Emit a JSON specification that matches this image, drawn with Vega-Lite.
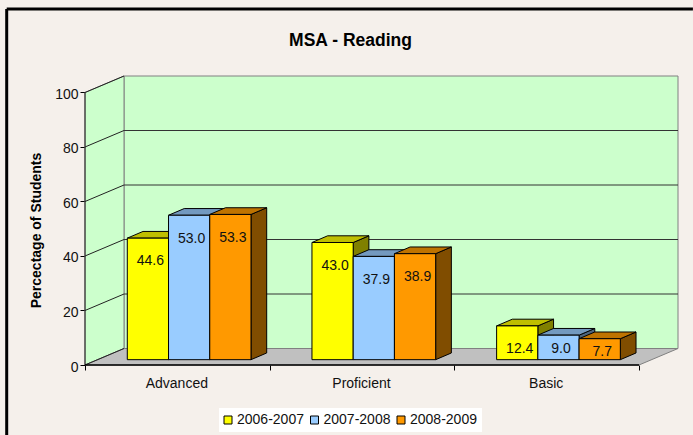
{
"$schema":"https://vega.github.io/schema/vega-lite/v6.json",
"width":593,"height":289,
"autosize":"none",
"padding":{"left":85,"top":76,"right":15,"bottom":70},
"background":"#F5F0EB",
"config":{"font":"Liberation Sans","view":{"stroke":null}},
"title":{"text":"MSA - Reading","fontSize":17.5,"fontWeight":"bold","color":"#000","anchor":"middle","dx":-31,"offset":-42},
"datasets":{
"bars":[
{"category":"Advanced","year":"2006-2007","value":44.6},
{"category":"Advanced","year":"2007-2008","value":53.0},
{"category":"Advanced","year":"2008-2009","value":53.3},
{"category":"Proficient","year":"2006-2007","value":43.0},
{"category":"Proficient","year":"2007-2008","value":37.9},
{"category":"Proficient","year":"2008-2009","value":38.9},
{"category":"Basic","year":"2006-2007","value":12.4},
{"category":"Basic","year":"2007-2008","value":9.0},
{"category":"Basic","year":"2008-2009","value":7.7}],
"ends":[{"t":0},{"t":1}],
"grid":[{"v":0},{"v":20},{"v":40},{"v":60},{"v":80},{"v":100}],
"edges":[{"edge":"top"},{"edge":"left"}]
},
"layer":[
{"data":{"values":[{"wall":"back"}]},
 "transform":[{"calculate":"0.2112","as":"xa"},{"calculate":"3.2112","as":"xb"},{"calculate":"6.055","as":"ya"},{"calculate":"106.055","as":"yb"}],
 "mark":{"type":"rect","fill":"#CCFFCC","stroke":"#808080","strokeWidth":1},
 "encoding":{
  "x":{"field":"xa","type":"quantitative","scale":{"domain":[0,3.2112],"nice":false,"zero":false},
   "axis":{"values":[0,0.5,1,1.5,2,2.5,3],"domain":false,"grid":false,"title":null,"tickSize":5,"tickColor":"#000","labelFontSize":14,"labelColor":"#111","labelPadding":6,"labelOffset":-1,"labelOverlap":false,"labelFlush":false,"tickOpacity":{"condition":{"test":"datum.value % 1 != 0","value":0},"value":1},"labelExpr":"datum.value==0.5?'Advanced':datum.value==1.5?'Proficient':datum.value==2.5?'Basic':''"}},
  "x2":{"field":"xb"},
  "y":{"field":"ya","type":"quantitative","scale":{"domain":[0,106.055],"nice":false,"zero":false},
   "axis":{"values":[0,20,40,60,80,100],"domain":false,"grid":false,"tickSize":5,"tickColor":"#000","labelFontSize":14,"labelColor":"#111","labelPadding":2,"labelOffset":2,"title":"Percectage of Students","titleFontSize":14,"titleFontWeight":"bold","titleColor":"#000","titleX":-42,"titleY":154}},
  "y2":{"field":"yb"}}},
{"data":{"name":"ends"},
 "transform":[{"calculate":"datum.t*0.2112","as":"xa"},{"calculate":"datum.t*6.055","as":"ya"},{"calculate":"100+datum.t*6.055","as":"yb"}],
 "mark":{"type":"area","fill":"#CCFFCC","stroke":"#808080","strokeWidth":1,"orient":"vertical"},
 "encoding":{"x":{"field":"xa","type":"quantitative"},"y":{"field":"ya","type":"quantitative"},"y2":{"field":"yb"}}},
{"data":{"name":"ends"},
 "transform":[{"calculate":"datum.t*0.2112","as":"xa"},{"calculate":"3+datum.t*0.2112","as":"xb"},{"calculate":"datum.t*6.055","as":"ya"}],
 "mark":{"type":"area","fill":"#C0C0C0","stroke":"#808080","strokeWidth":1,"orient":"horizontal"},
 "encoding":{"y":{"field":"ya","type":"quantitative"},"x":{"field":"xa","type":"quantitative"},"x2":{"field":"xb"}}},
{"data":{"name":"grid"},
 "transform":[{"filter":"datum.v>0 && datum.v<100"},{"calculate":"0.2112","as":"xa"},{"calculate":"3.2112","as":"xb"},{"calculate":"datum.v+6.055","as":"ya"}],
 "mark":{"type":"rule","color":"#333","strokeWidth":1},
 "encoding":{"x":{"field":"xa","type":"quantitative"},"x2":{"field":"xb"},"y":{"field":"ya","type":"quantitative"}}},
{"data":{"name":"grid"},
 "transform":[{"calculate":"0","as":"xa"},{"calculate":"0.2112","as":"xb"},{"calculate":"datum.v+6.055","as":"ya"}],
 "mark":{"type":"rule","color":"#222","strokeWidth":1},
 "encoding":{"x":{"field":"xa","type":"quantitative"},"x2":{"field":"xb"},"y":{"field":"v","type":"quantitative"},"y2":{"field":"ya"}}},
{"data":{"values":[{"axis":"y"}]},
 "transform":[{"calculate":"0","as":"xa"},{"calculate":"0","as":"ya"},{"calculate":"100","as":"yb"}],
 "mark":{"type":"rule","color":"#222","strokeWidth":1},
 "encoding":{"x":{"field":"xa","type":"quantitative"},"y":{"field":"ya","type":"quantitative"},"y2":{"field":"yb"}}},
{"data":{"values":[{"axis":"x"}]},
 "transform":[{"calculate":"0","as":"xa"},{"calculate":"3","as":"xb"},{"calculate":"0","as":"ya"}],
 "mark":{"type":"rule","color":"#000","strokeWidth":1.5},
 "encoding":{"x":{"field":"xa","type":"quantitative"},"x2":{"field":"xb"},"y":{"field":"ya","type":"quantitative"}}},
{"data":{"name":"bars"},
 "transform":[
  {"calculate":"indexof(['Advanced','Proficient','Basic'],datum.category)+0.229+indexof(['2006-2007','2007-2008','2008-2009'],datum.year)*0.2233","as":"x0"},
  {"calculate":"datum.x0+0.2233","as":"x1"},
  {"calculate":"1.95","as":"base"},
  {"calculate":"datum.value+1.95","as":"top"},
  {"calculate":"datum.value<10?datum.top-4.4:datum.top-8","as":"labelY"},
  {"calculate":"(datum.x0+datum.x1)/2","as":"xc"}
 ],
 "layer":[
  {"transform":[{"calculate":"[0,1]","as":"t"},{"flatten":["t"]},
    {"calculate":"datum.x1+datum.t*0.085","as":"sx"},{"calculate":"datum.top+datum.t*2.46","as":"sy"},{"calculate":"datum.base+datum.t*2.46","as":"sy2"},{"calculate":"datum.category+datum.year","as":"id"}],
   "mark":{"type":"area","stroke":"#000","strokeWidth":1,"orient":"vertical"},
   "encoding":{"x":{"field":"sx","type":"quantitative"},"y":{"field":"sy","type":"quantitative"},"y2":{"field":"sy2"},"detail":{"field":"id"},
    "color":{"field":"year","type":"nominal","legend":null,"scale":{"domain":["2006-2007","2007-2008","2008-2009"],"range":["#808000","#4D6680","#804D00"]}}}},
  {"transform":[{"calculate":"[0,1]","as":"t"},{"flatten":["t"]},
    {"calculate":"datum.x0+datum.t*0.085","as":"tx"},{"calculate":"datum.x1+datum.t*0.085","as":"tx2"},{"calculate":"datum.top+datum.t*2.46","as":"ty"},{"calculate":"datum.category+datum.year","as":"id"}],
   "mark":{"type":"area","stroke":"#000","strokeWidth":1,"orient":"horizontal"},
   "encoding":{"y":{"field":"ty","type":"quantitative"},"x":{"field":"tx","type":"quantitative"},"x2":{"field":"tx2"},"detail":{"field":"id"},
    "color":{"field":"year","type":"nominal","legend":null,"scale":{"domain":["2006-2007","2007-2008","2008-2009"],"range":["#BFBF00","#7399BF","#BF7300"]}}}},
  {"mark":{"type":"rect","stroke":"#000","strokeWidth":1},
   "encoding":{"x":{"field":"x0","type":"quantitative"},"x2":{"field":"x1"},"y":{"field":"base","type":"quantitative"},"y2":{"field":"top"},
    "color":{"field":"year","type":"nominal","scale":{"domain":["2006-2007","2007-2008","2008-2009"],"range":["#FFFF00","#99CCFF","#FF9900"]},
     "legend":{"orient":"none","legendX":134,"legendY":332,"direction":"horizontal","columns":3,"title":null,"fillColor":"#FFFFFF","padding":5,"symbolType":"square","symbolSize":64,"symbolOffset":-3,"symbolStrokeColor":"#000","symbolStrokeWidth":1,"symbolOpacity":1,"labelFontSize":14,"labelColor":"#111","labelOffset":2,"columnPadding":4.5}}}},
  {"mark":{"type":"text","fontSize":14,"color":"#111","dx":2.5,"dy":1.5,"baseline":"middle"},
   "encoding":{"x":{"field":"xc","type":"quantitative"},"y":{"field":"labelY","type":"quantitative"},"text":{"field":"value","type":"quantitative","format":".1f"}}}
 ],
 "resolve":{"scale":{"color":"independent"}}},
{"data":{"name":"edges"},
 "transform":[{"calculate":"-0.424","as":"xa"},{"calculate":"datum.edge=='top'?3.292:-0.424","as":"xb"},{"calculate":"130.6","as":"ya"},{"calculate":"datum.edge=='top'?130.6:-25.7","as":"yb"}],
 "mark":{"type":"rule","color":"#000","strokeWidth":3},
 "encoding":{"x":{"field":"xa","type":"quantitative"},"x2":{"field":"xb"},"y":{"field":"ya","type":"quantitative"},"y2":{"field":"yb"}}}
],
"resolve":{"scale":{"color":"independent"}}
}
